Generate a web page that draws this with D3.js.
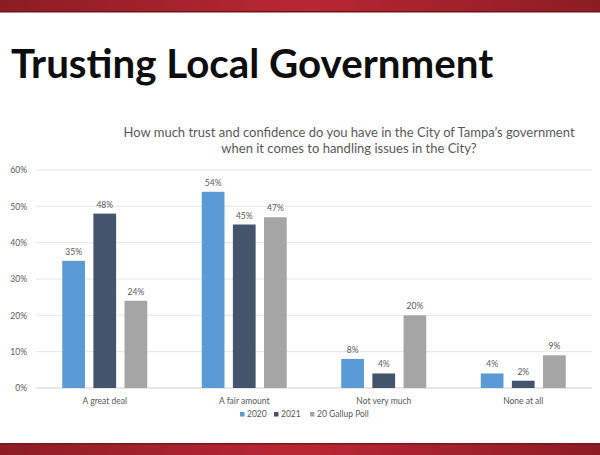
<!DOCTYPE html>
<html><head><meta charset="utf-8">
<script src="https://cdn.jsdelivr.net/npm/d3@7"></script>
<style>body{margin:0;background:#fff}svg{display:block}</style>
</head><body><svg id="c" width="600" height="455"></svg>
<script>
const categories = ["A great deal", "A fair amount", "Not very much", "None at all"];
const seriesNames = ["2020", "2021", "20 Gallup Poll"];
const values2020 = [35, 54, 8, 4];
const values2021 = [48, 45, 4, 2];
const valuesGallup = [24, 47, 20, 9];
const yTicks = [0, 10, 20, 30, 40, 50, 60];
const colors = ["#5B9BD5", "#44546A", "#A5A5A5"];

const svg = d3.select("#c");
const defs = svg.append("defs");
const g = defs.append("linearGradient").attr("id", "rg");
g.append("stop").attr("offset", "0%").attr("stop-color", "#8c1c24");
g.append("stop").attr("offset", "50%").attr("stop-color", "#b92633");
g.append("stop").attr("offset", "100%").attr("stop-color", "#8c1c24");
svg.append("rect").attr("x", 0).attr("y", 0).attr("width", 600).attr("height", 11).attr("fill", "url(#rg)");
svg.append("rect").attr("x", 0).attr("y", 11).attr("width", 600).attr("height", 1.5).attr("fill", "#6e141a");
svg.append("rect").attr("x", 0).attr("y", 444).attr("width", 600).attr("height", 11).attr("fill", "url(#rg)");
svg.append("rect").attr("x", 0).attr("y", 443).attr("width", 600).attr("height", 1.5).attr("fill", "#7a161d");

svg.append("text").attr("x", 11).attr("y", 78).text("Trusting Local Government")
  .attr("font-family", "Lato").attr("font-weight", 700).attr("font-size", 40.3).attr("fill", "#0d0d0d");

svg.append("text").attr("x", 349).attr("y", 137).attr("text-anchor", "middle")
  .attr("font-family", "Lato").attr("font-size", 13).attr("fill", "#595959")
  .text("How much trust and confidence do you have in the City of Tampa\u2019s government");
svg.append("text").attr("x", 349).attr("y", 153).attr("text-anchor", "middle")
  .attr("font-family", "Lato").attr("font-size", 13).attr("fill", "#595959")
  .text("when it comes to handling issues in the City?");

const x0 = d3.scaleBand().domain(categories).range([35, 593]);
const x1 = d3.scaleBand().domain(seriesNames).range([0, 85]).paddingInner(0.27);
const y = d3.scaleLinear().domain([0, 60]).range([388, 170]);

const grid = svg.append("g");
yTicks.forEach(t => {
  grid.append("line").attr("x1", 36).attr("x2", 592).attr("y1", y(t)).attr("y2", y(t))
    .attr("stroke", t === 0 ? "#d0d0d0" : "#e6e6e6").attr("stroke-width", 1);
});
const yAxis = d3.axisLeft(y).tickValues(yTicks).tickFormat(d => d + "%").tickSize(0).tickPadding(0);
const ya = svg.append("g").attr("transform", "translate(27,0)").call(yAxis);
ya.select(".domain").remove();
ya.selectAll("text").attr("font-family", "Lato").attr("font-size", 8.5).attr("fill", "#595959");

const series = [values2020, values2021, valuesGallup];
categories.forEach((c, i) => {
  const gx = x0(c) + x0.bandwidth() / 2 - 42.5;
  series.forEach((vals, s) => {
    const bx = gx + x1(seriesNames[s]);
    svg.append("rect").attr("x", bx).attr("y", y(vals[i])).attr("width", x1.bandwidth())
      .attr("height", y(0) - y(vals[i])).attr("fill", colors[s]);
    svg.append("text").attr("x", bx + x1.bandwidth() / 2).attr("y", y(vals[i]) - 6)
      .attr("text-anchor", "middle").attr("font-family", "Lato").attr("font-size", 8.5)
      .attr("fill", "#595959").text(vals[i] + "%");
  });
});

const xAxis = d3.axisBottom(x0).tickSize(0).tickPadding(0);
const xa = svg.append("g").attr("transform", "translate(0,404)").call(xAxis);
xa.select(".domain").remove();
xa.selectAll("text").attr("font-family", "Lato").attr("font-size", 8.5).attr("fill", "#595959").attr("dy", 0);

const legend = svg.append("g").attr("transform", "translate(240,417)");
let lx = 0;
const widths = [34, 36, 60];
seriesNames.forEach((n, s) => {
  legend.append("rect").attr("x", lx).attr("y", -5).attr("width", 4.5).attr("height", 4.5).attr("fill", colors[s]);
  legend.append("text").attr("x", lx + 7).attr("y", 0).attr("font-family", "Lato").attr("font-size", 8.5)
    .attr("fill", "#595959").text(n);
  lx += widths[s];
});
</script></body></html>
